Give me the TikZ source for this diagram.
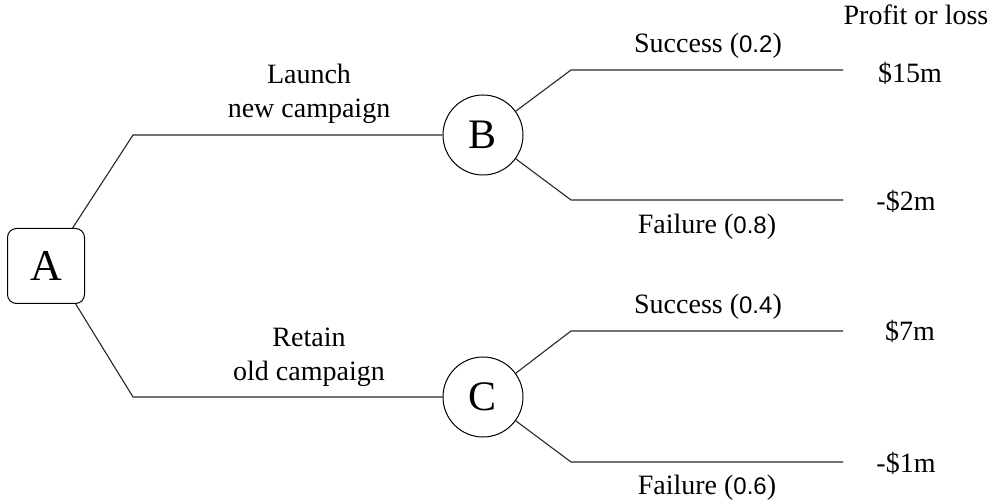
\documentclass[tikz,border=0pt]{standalone}
\usepackage{fontspec}
\setmainfont{Liberation Serif}
\newfontfamily\probfont{Liberation Sans}
\usetikzlibrary{calc}
\newcommand{\prob}[1]{{\probfont\fontsize{24}{28}\selectfont #1}}
\begin{document}
\begin{tikzpicture}[x=1pt,y=-1pt,
  branch/.style={line width=1.1pt, draw=black!85},
  txt/.style={font=\fontsize{28}{34}\selectfont, inner sep=0pt, align=center},
  decision/.style={draw, line width=1pt, rounded corners=9pt, minimum width=77pt,
    minimum height=75pt, font=\fontsize{44}{44}\selectfont, inner sep=0pt},
  chance/.style={draw, line width=1pt, circle, minimum size=80pt,
    font=\fontsize{42}{42}\selectfont, inner sep=0pt}]
\useasboundingbox (0,0) rectangle (999,502);

% decision and chance nodes
\node[decision] (A) at (46,266) {A};
\node[chance] (B) at (483,135) {B};
\node[chance] (C) at (483,397) {C};

% bends of the first-level branches
\coordinate (a1) at (133,135);
\coordinate (a2) at (133,397);
% bends and ends of the outcome branches
\coordinate (b1) at (571,70);  \coordinate (e1) at (843,70);
\coordinate (b2) at (571,200); \coordinate (e2) at (843,200);
\coordinate (c1) at (571,331); \coordinate (e3) at (843,331);
\coordinate (c2) at (571,462); \coordinate (e4) at (843,462);

\draw[branch] (A.55) -- (a1) -- (B.west);
\draw[branch] (A.-52) -- (a2) -- (C.west);
\draw[branch] (B.36) -- (b1) -- (e1);
\draw[branch] (B.-36) -- (b2) -- (e2);
\draw[branch] (C.36) -- (c1) -- (e3);
\draw[branch] (C.-36) -- (c2) -- (e4);

% branch labels
\node[txt] (l1) at (309,94) {Launch\\new campaign};
\node[txt] (l2) at (309,357) {Retain\\old campaign};
\node[txt] (s1) at (708,46) {Success (\prob{0.2})};
\node[txt] (f1) at (707,227) {Failure (\prob{0.8})};
\node[txt] (s2) at (708,307) {Success (\prob{0.4})};
\node[txt] (f2) at (707,488) {Failure (\prob{0.6})};

% payoffs
\node[txt] (hd) at (916,15) {Profit or loss};
\node[txt] (p1) at (910,73) {\$15m};
\node[txt] (p2) at (906,201) {-\$2m};
\node[txt] (p3) at (910,331) {\$7m};
\node[txt] (p4) at (906,463) {-\$1m};
\end{tikzpicture}
\end{document}
